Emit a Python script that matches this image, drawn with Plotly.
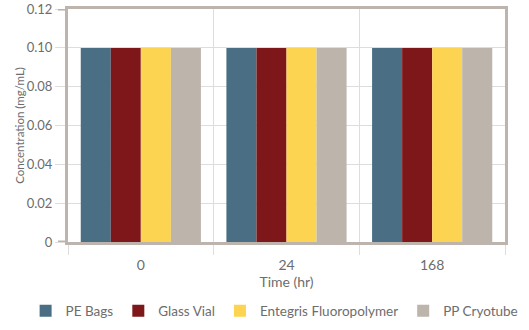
import plotly.graph_objects as go

categories = ["0", "24", "168"]
series_names = ["PE Bags", "Glass Vial", "Entegris Fluoropolymer", "PP Cryotube"]
pe_bags = [0.10, 0.10, 0.10]
glass_vial = [0.10, 0.10, 0.10]
entegris = [0.10, 0.10, 0.10]
pp_cryotube = [0.10, 0.10, 0.10]
y_ticks = [0, 0.02, 0.04, 0.06, 0.08, 0.10, 0.12]
y_tick_labels = ["0", "0.02", "0.04", "0.06", "0.08", "0.10", "0.12"]
y_max = 0.12

colors = ["#4a6f84", "#7e1719", "#fdd451", "#bdb4ab"]
axis_col = "#bcb4ad"
grid_col = "#dddddd"
text_col = "#6d6d6d"
font_family = "Lato, Open Sans, sans-serif"

fig = go.Figure()
for name, vals, c in zip(series_names, [pe_bags, glass_vial, entegris, pp_cryotube], colors):
    fig.add_trace(go.Bar(x=categories, y=vals, name=name, marker=dict(color=c, line=dict(width=0))))

fig.update_layout(
    width=529, height=330,
    margin=dict(l=68, r=24, t=9, b=88, autoexpand=False),
    paper_bgcolor="white", plot_bgcolor="white",
    barmode="group", bargap=0.175, bargroupgap=0,
    font=dict(family=font_family, color=text_col, size=13),
    showlegend=True,
    legend=dict(orientation="h", x=-0.097, xanchor="left", y=-0.296, yanchor="middle",
                font=dict(size=13.5, color=text_col), tracegroupgap=0),
    xaxis=dict(
        type="category", tickson="boundaries", showgrid=True, gridcolor=grid_col, gridwidth=1,
        ticks="outside", ticklen=10, tickcolor=grid_col, tickwidth=1,
        showline=True, linecolor=axis_col, linewidth=3, mirror=True,
        ticklabelstandoff=8,
        title=dict(text="Time (hr)", font=dict(size=14, color=text_col), standoff=2),
        tickfont=dict(size=14, color=text_col),
    ),
    yaxis=dict(
        range=[0, y_max * 1.0004], tickvals=y_ticks, ticktext=y_tick_labels,
        ticklabeloverflow="allow",
        showgrid=True, gridcolor=grid_col, gridwidth=1, zeroline=False,
        ticks="outside", ticklen=10, tickcolor=grid_col, tickwidth=1,
        showline=True, linecolor=axis_col, linewidth=3, mirror=True,
        title=dict(text="Concentration (mg/mL)", font=dict(size=11.5, color=text_col), standoff=0),
        tickfont=dict(size=13, color=text_col),
    ),
)

# thick extensions of the frame corners
for yv in [0, y_max]:
    fig.add_shape(type="line", xref="paper", yref="y", xsizemode="pixel", xanchor=0,
                  x0=-10, x1=0, y0=yv, y1=yv, line=dict(color=axis_col, width=3))
for xv in [0, 1]:
    fig.add_shape(type="line", xref="paper", yref="y", ysizemode="pixel", yanchor=0,
                  x0=xv, x1=xv, y0=-10, y1=0, line=dict(color=axis_col, width=3))

fig.write_html("out.html")
